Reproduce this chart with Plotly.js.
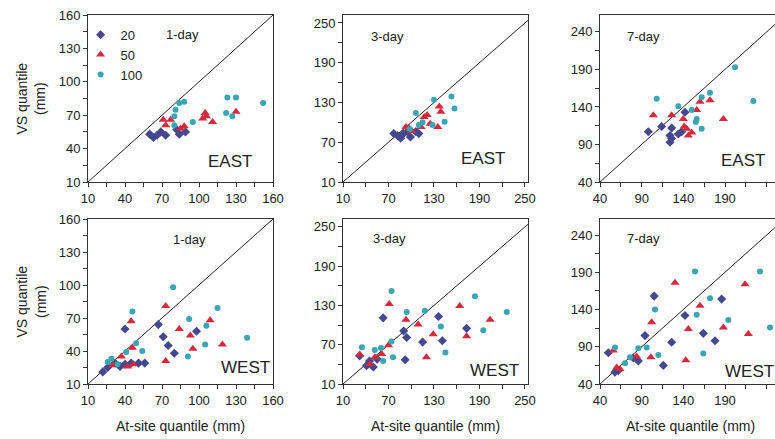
<!DOCTYPE html>
<html>
<head>
<meta charset="utf-8">
<script src="https://cdn.plot.ly/plotly-3.0.1.min.js"></script>
<style>html,body{margin:0;padding:0;background:#fff;}#chart{width:775px;height:439px;}</style>
</head>
<body>
<div id="chart"></div>
<script>
// ---------- DATA ----------
const seriesNames = ['20', '50', '100'];

// EAST 1-day
const e1_x20 = [60, 63, 66, 69, 73, 82, 84, 89];
const e1_y20 = [53, 50, 52, 55, 52, 57, 53, 55];
const e1_x50 = [71, 73, 77, 85, 88, 103, 105, 106, 111, 130];
const e1_y50 = [66, 61, 66, 58, 60, 67, 72, 69, 64, 73];
const e1_x100 = [81, 84, 88, 80, 80, 95, 122, 123, 130, 127, 152];
const e1_y100 = [75, 81, 82, 69, 61, 64, 72, 86, 86, 69, 81];

// EAST 3-day
const e3_x20 = [77, 82, 86, 90, 95, 99, 106, 110];
const e3_y20 = [83, 80, 76, 83, 86, 78, 86, 83];
const e3_x50 = [93, 97, 101, 113, 117, 121, 135, 137, 139, 125];
const e3_y50 = [93, 91, 87, 93, 108, 111, 93, 124, 116, 98];
const e3_x100 = [106, 110, 130, 153, 157, 144, 128, 115, 98];
const e3_y100 = [114, 96, 134, 139, 121, 101, 96, 100, 90];

// EAST 7-day
const e7_x20 = [98, 114, 126, 124, 126, 124, 134, 138, 142];
const e7_y20 = [107, 114, 112, 102, 98, 93, 104, 107, 133];
const e7_x50 = [104, 126, 140, 141, 144, 146, 156, 160, 172, 188, 150];
const e7_y50 = [129, 129, 124, 114, 111, 102, 136, 147, 149, 124, 106];
const e7_x100 = [108, 134, 150, 156, 162, 162, 172, 202, 224, 155];
const e7_y100 = [151, 141, 136, 124, 111, 153, 159, 193, 148, 120];

// WEST 1-day
const w1_x20 = [40, 67, 71, 75, 80, 98, 22, 26, 32, 36, 40, 45, 51, 56];
const w1_y20 = [60, 64, 53, 45, 38, 58, 21, 25, 29, 26, 28, 29, 29, 29];
const w1_x50 = [45, 73, 84, 93, 95, 109, 119, 73, 46, 37, 47, 30, 42];
const w1_y50 = [67, 81, 60, 54, 42, 68, 46, 31, 43, 35, 28, 27, 26];
const w1_x100 = [46, 79, 92, 115, 139, 105, 91, 54, 41, 49, 29, 34, 26, 106];
const w1_y100 = [76, 98, 69, 79, 52, 46, 35, 40, 39, 47, 33, 28, 30, 63];

// WEST 3-day
const w3_x20 = [32, 41, 50, 63, 90, 94, 92, 115, 136, 141, 173, 45, 55];
const w3_y20 = [53, 38, 36, 111, 91, 81, 47, 74, 113, 76, 95, 45, 48];
const w3_x50 = [52, 61, 70, 71, 93, 109, 120, 129, 164, 173, 204, 45, 32];
const w3_y50 = [51, 56, 69, 132, 108, 101, 51, 86, 129, 83, 108, 40, 55];
const w3_x100 = [35, 52, 74, 74, 76, 94, 118, 139, 145, 184, 195, 226, 60, 63];
const w3_y100 = [66, 62, 152, 75, 51, 120, 122, 98, 58, 144, 92, 120, 65, 45];

// WEST 7-day
const w7_x20 = [50, 58, 94, 105, 116, 126, 142, 164, 178, 186, 86, 80, 62];
const w7_y20 = [82, 56, 105, 158, 65, 96, 132, 108, 98, 154, 71, 75, 58];
const w7_x50 = [56, 64, 84, 102, 101, 130, 143, 146, 160, 188, 214, 218, 60];
const w7_y50 = [85, 60, 77, 123, 76, 176, 72, 114, 145, 116, 174, 107, 62];
const w7_x100 = [58, 76, 96, 106, 110, 156, 164, 172, 194, 154, 232, 244, 86, 70];
const w7_y100 = [89, 76, 89, 140, 79, 133, 81, 155, 126, 191, 191, 116, 88, 68];

// 1:1 reference line ends
const line1 = [10, 160];
const line3 = [10, 262];
const line7 = [40, 262];

// labels
const durLabels = ['1-day', '3-day', '7-day'];
const regionLabels = ['EAST', 'WEST'];

// ---------- BUILD ----------
const FONT = 'Arial, "Liberation Sans", Helvetica, sans-serif';
const colors = ['#46488f', '#d42a3c', '#3aa5b3'];
const symbols = ['diamond', 'triangle-up', 'circle'];
const sizes = [7, 8, 6];

const panels = [
  {ax: '', xs: [e1_x20, e1_x50, e1_x100], ys: [e1_y20, e1_y50, e1_y100], line: line1},
  {ax: '2', xs: [e3_x20, e3_x50, e3_x100], ys: [e3_y20, e3_y50, e3_y100], line: line3},
  {ax: '3', xs: [e7_x20, e7_x50, e7_x100], ys: [e7_y20, e7_y50, e7_y100], line: line7},
  {ax: '4', xs: [w1_x20, w1_x50, w1_x100], ys: [w1_y20, w1_y50, w1_y100], line: line1},
  {ax: '5', xs: [w3_x20, w3_x50, w3_x100], ys: [w3_y20, w3_y50, w3_y100], line: line3},
  {ax: '6', xs: [w7_x20, w7_x50, w7_x100], ys: [w7_y20, w7_y50, w7_y100], line: line7}
];

const traces = [];
panels.forEach((p, pi) => {
  traces.push({
    x: p.line, y: p.line, xaxis: 'x' + p.ax, yaxis: 'y' + p.ax,
    mode: 'lines', line: {color: '#222', width: 1}, showlegend: false, hoverinfo: 'skip'
  });
  for (let s = 0; s < 3; s++) {
    traces.push({
      x: p.xs[s], y: p.ys[s], xaxis: 'x' + p.ax, yaxis: 'y' + p.ax,
      mode: 'markers', name: seriesNames[s], legendgroup: seriesNames[s],
      showlegend: pi === 0,
      marker: {symbol: symbols[s], color: colors[s], size: sizes[s], line: {width: 0}}
    });
  }
});

const colDom = [[88/775, 273/775], [343/775, 528/775], [600/775, 1.0]];
const rowDom = [[257/439, 424/439], [55/439, 220/439]];
const xr = [[10, 160], [10, 254], [40, 250]];
const yrTop = [[10, 160], [10, 262], [40, 262.5]];
const yrBot = [[10, 160], [10, 262], [40, 261.5]];
const tk = [{t0: 10, d: 30, m: 15}, {t0: 10, d: 60, m: 30}, {t0: 40, d: 50, m: 25}];

function axis(range, dom, anchor, t) {
  return {
    domain: dom, range: range, anchor: anchor,
    showline: true, mirror: true, linecolor: '#333', linewidth: 1,
    showgrid: false, zeroline: false,
    ticks: 'outside', ticklen: 4, tickcolor: '#333', tickwidth: 1,
    tick0: t.t0, dtick: t.d,
    minor: {tick0: t.t0, dtick: t.m, ticks: 'outside', ticklen: 4, tickcolor: '#333', showgrid: false},
    tickfont: {family: FONT, size: 13, color: '#222'}
  };
}

const layout = {
  width: 775, height: 439,
  margin: {l: 0, r: 0, t: 0, b: 0},
  paper_bgcolor: '#fff', plot_bgcolor: '#fff',
  font: {family: FONT, size: 12, color: '#222'},
  showlegend: true,
  legend: {x: 0.104, y: 0.955, xanchor: 'left', yanchor: 'top', bgcolor: 'rgba(0,0,0,0)',
           font: {family: FONT, size: 13, color: '#222'}, itemwidth: 30, tracegroupgap: 0},
  annotations: []
};

for (let r = 0; r < 2; r++) {
  for (let c = 0; c < 3; c++) {
    const idx = r * 3 + c + 1;
    const sfx = idx === 1 ? '' : String(idx);
    layout['xaxis' + sfx] = axis(xr[c], colDom[c], 'y' + sfx, tk[c]);
    layout['yaxis' + sfx] = axis(r === 0 ? yrTop[c] : yrBot[c], rowDom[r], 'x' + sfx, tk[c]);
  }
}

// duration labels and region labels
const durPos = [[0.51, 0.886], [0.24, 0.874], [0.246, 0.874]];
const durPosB = [[0.55, 0.873], [0.254, 0.88], [0.246, 0.88]];
const regPos = [[0.77, 0.12], [0.757, 0.138], [0.817, 0.126]];
const regPosB = [[0.85, 0.103], [0.82, 0.08], [0.857, 0.073]];
for (let r = 0; r < 2; r++) {
  for (let c = 0; c < 3; c++) {
    const idx = r * 3 + c + 1;
    const sfx = idx === 1 ? '' : String(idx);
    const dp = r === 0 ? durPos[c] : durPosB[c];
    const rp = r === 0 ? regPos[c] : regPosB[c];
    layout.annotations.push({
      text: durLabels[c], xref: 'x' + sfx + ' domain', yref: 'y' + sfx + ' domain',
      x: dp[0], y: dp[1], showarrow: false, xanchor: 'center', yanchor: 'middle',
      font: {family: FONT, size: 13, color: '#222'}
    });
    layout.annotations.push({
      text: regionLabels[r], xref: 'x' + sfx + ' domain', yref: 'y' + sfx + ' domain',
      x: rp[0], y: rp[1], showarrow: false, xanchor: 'center', yanchor: 'middle',
      font: {family: FONT, size: 17, color: '#222'}
    });
  }
}

// axis titles
[0.7757, 0.3132].forEach(yc => {
  layout.annotations.push({
    text: 'VS quantile<br>(mm)', xref: 'paper', yref: 'paper', x: 31/775, y: yc,
    showarrow: false, textangle: -90, xanchor: 'center', yanchor: 'middle',
    font: {family: FONT, size: 14, color: '#222'}
  });
});
[180/775, 435/775, 690/775].forEach(xc => {
  layout.annotations.push({
    text: 'At-site quantile (mm)', xref: 'paper', yref: 'paper', x: xc, y: 13/439,
    showarrow: false, xanchor: 'center', yanchor: 'middle',
    font: {family: FONT, size: 14, color: '#222'}
  });
});

Plotly.newPlot('chart', traces, layout, {displayModeBar: false, staticPlot: true});
</script>
</body>
</html>
